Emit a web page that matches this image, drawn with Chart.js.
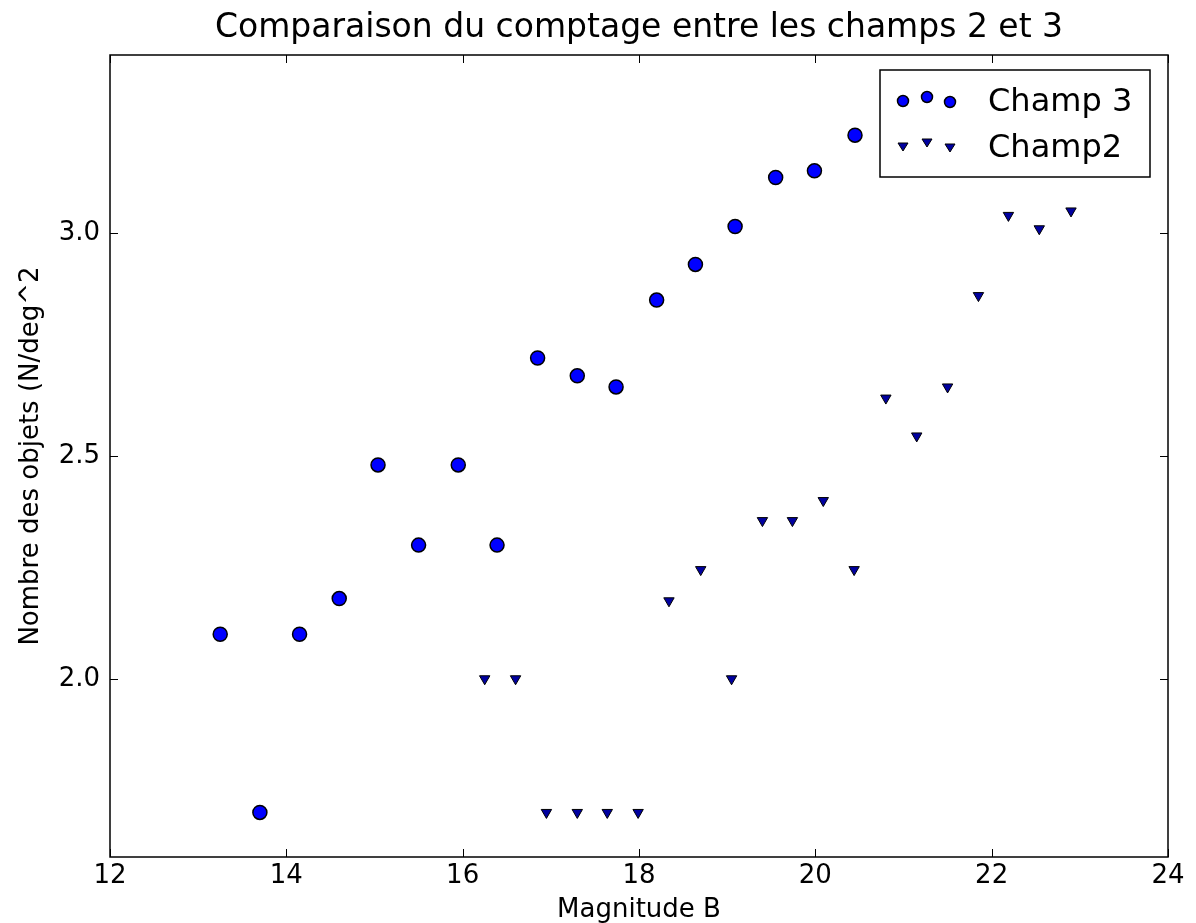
<!DOCTYPE html>
<html>
<head>
<meta charset="utf-8">
<script src="https://cdn.jsdelivr.net/npm/chart.js@4.4.0/dist/chart.umd.min.js"></script>
<style>
  html, body { margin: 0; padding: 0; background: #fff; }
  #wrap { width: 1196px; height: 923px; }
</style>
</head>
<body>
<div id="wrap"><canvas id="c" width="1196" height="923"></canvas></div>
<script>
// Champ 3 (cercles)
var champ3X = [13.25, 13.70, 14.15, 14.60, 15.04, 15.50, 15.95, 16.39, 16.85, 17.30, 17.74, 18.20, 18.64, 19.09, 19.55, 19.99, 20.45];
var champ3Y = [2.10, 1.70, 2.10, 2.18, 2.48, 2.30, 2.48, 2.30, 2.72, 2.68, 2.655, 2.85, 2.93, 3.015, 3.125, 3.14, 3.22];

// Champ2 (triangles)
var champ2X = [16.25, 16.60, 16.95, 17.30, 17.64, 17.99, 18.34, 18.70, 19.05, 19.40, 19.74, 20.09, 20.44, 20.80, 21.15, 21.50, 21.85, 22.19, 22.54, 22.90];
var champ2Y = [2.00, 2.00, 1.70, 1.70, 1.70, 1.70, 2.175, 2.245, 2.00, 2.355, 2.355, 2.40, 2.245, 2.63, 2.545, 2.655, 2.86, 3.04, 3.01, 3.05];

var xTicks = [12, 14, 16, 18, 20, 22, 24];
var yTicks = [2.0, 2.5, 3.0];

var titre = 'Comparaison du comptage entre les champs 2 et 3';

function toPoints(xs, ys) {
    return xs.map(function (x, i) { return { x: x, y: ys[i] }; });
}

var fontFamily = "'DejaVu Sans', sans-serif";

// titre, cadre, graduations internes et légende façon matplotlib
var framePlugin = {
    id: 'frame',
    afterDraw: function (chart) {
        var ctx = chart.ctx;
        var a = chart.chartArea;
        var xs = chart.scales.x, ys = chart.scales.y;
        var len = 8;
        ctx.save();

        ctx.fillStyle = '#000';
        ctx.font = '33px ' + fontFamily;
        ctx.textAlign = 'center';
        ctx.textBaseline = 'alphabetic';
        ctx.fillText(titre, (a.left + a.right) / 2, 37);

        ctx.strokeStyle = '#000';
        ctx.lineWidth = 1.5;
        ctx.strokeRect(a.left, a.top, a.right - a.left, a.bottom - a.top);
        ctx.lineWidth = 1;
        ctx.beginPath();
        xTicks.forEach(function (v) {
            var px = Math.round(xs.getPixelForValue(v)) + 0.5;
            ctx.moveTo(px, a.bottom); ctx.lineTo(px, a.bottom - len);
            ctx.moveTo(px, a.top); ctx.lineTo(px, a.top + len);
        });
        yTicks.forEach(function (v) {
            var py = Math.round(ys.getPixelForValue(v)) + 0.5;
            ctx.moveTo(a.left, py); ctx.lineTo(a.left + len, py);
            ctx.moveTo(a.right, py); ctx.lineTo(a.right - len, py);
        });
        ctx.stroke();

        // légende
        var bx = 880, by = 70, bw = 270, bh = 107;
        ctx.fillStyle = '#fff';
        ctx.fillRect(bx, by, bw, bh);
        ctx.lineWidth = 1.5;
        ctx.strokeStyle = '#000';
        ctx.strokeRect(bx, by, bw, bh);
        var offs = [2, -2, 3];
        var mx = [903, 927, 950];
        chart.data.datasets.forEach(function (ds, i) {
            var rowY = by + 29 + i * 46;
            mx.forEach(function (x, k) {
                var cy = rowY + offs[k];
                ctx.fillStyle = ds.backgroundColor;
                ctx.strokeStyle = ds.borderColor;
                ctx.lineWidth = ds.borderWidth;
                ctx.beginPath();
                if (ds.pointStyle === 'circle') {
                    ctx.arc(x, cy, 5.5, 0, Math.PI * 2);
                } else {
                    ctx.moveTo(x - 5, cy - 4); ctx.lineTo(x + 5, cy - 4); ctx.lineTo(x, cy + 4); ctx.closePath();
                }
                ctx.fill(); ctx.stroke();
            });
            ctx.fillStyle = '#000';
            ctx.font = '32px ' + fontFamily;
            ctx.textBaseline = 'alphabetic';
            ctx.textAlign = 'left';
            ctx.fillText(ds.label, 988, rowY + 12);
        });
        ctx.restore();
    }
};

var ctx = document.getElementById('c').getContext('2d');
new Chart(ctx, {
    type: 'scatter',
    data: {
        datasets: [{
            label: 'Champ 3',
            data: toPoints(champ3X, champ3Y),
            pointStyle: 'circle',
            pointRadius: 7,
            backgroundColor: '#0000ff',
            borderColor: '#000',
            borderWidth: 1.5
        }, {
            label: 'Champ2',
            data: toPoints(champ2X, champ2Y),
            pointStyle: 'triangle',
            rotation: 180,
            pointRadius: 6,
            backgroundColor: '#0000a0',
            borderColor: '#000',
            borderWidth: 1
        }]
    },
    options: {
        responsive: false,
        animation: false,
        layout: { padding: { left: 0, right: 28, top: 55, bottom: 0 } },
        plugins: {
            legend: { display: false },
            tooltip: { enabled: false },
            title: { display: false }
        },
        scales: {
            x: {
                type: 'linear',
                min: 12,
                max: 24,
                afterBuildTicks: function (s) { s.ticks = xTicks.map(function (v) { return { value: v }; }); },
                afterFit: function (s) { s.height = 66; },
                grid: { display: false, drawTicks: false },
                border: { display: false },
                ticks: { color: '#000', padding: 4, font: { family: fontFamily, size: 26 } },
                title: {
                    display: true,
                    text: 'Magnitude B',
                    color: '#000',
                    padding: { top: 0, bottom: -3 },
                    font: { family: fontFamily, size: 26 }
                }
            },
            y: {
                type: 'linear',
                min: 1.6,
                max: 3.4,
                afterBuildTicks: function (s) { s.ticks = yTicks.map(function (v) { return { value: v }; }); },
                afterFit: function (s) { s.width = 110; },
                grid: { display: false, drawTicks: false },
                border: { display: false },
                ticks: {
                    color: '#000',
                    padding: 10,
                    font: { family: fontFamily, size: 26 },
                    callback: function (v) { return v.toFixed(1); }
                },
                title: {
                    display: true,
                    text: 'Nombre des objets (N/deg^2',
                    color: '#000',
                    padding: { top: 16, bottom: 0 },
                    font: { family: fontFamily, size: 26 }
                }
            }
        }
    },
    plugins: [framePlugin]
});
</script>
</body>
</html>
